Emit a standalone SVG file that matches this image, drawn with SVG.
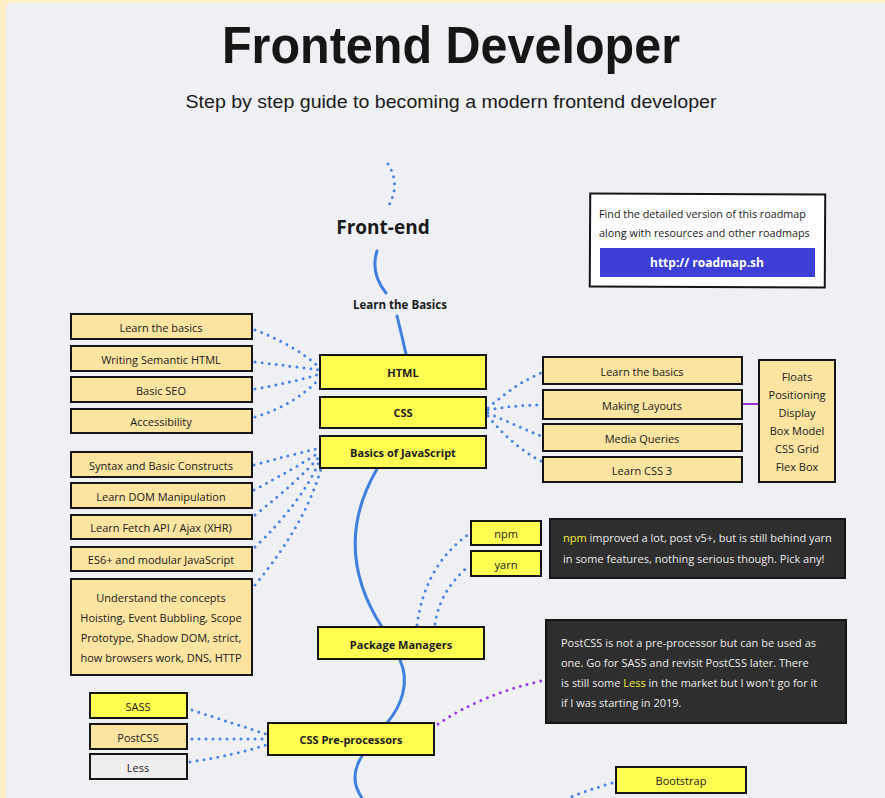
<svg xmlns="http://www.w3.org/2000/svg" width="885" height="798" viewBox="0 0 885 798">
<style>
.by{fill:#ffff52;stroke:#151515;stroke-width:2}
.bo{fill:#fbe3a2;stroke:#151515;stroke-width:2}
.bg{fill:#efefef;stroke:#151515;stroke-width:2}
.dark{fill:#2e2e2e;stroke:#151515;stroke-width:2}
.t{font-family:"Open Sans","Liberation Sans",sans-serif;font-size:11px;fill:#1a1a1a;text-anchor:middle;dominant-baseline:central}
.tb{font-family:"Open Sans","Liberation Sans",sans-serif;font-size:11px;font-weight:bold;fill:#1a1a1a;text-anchor:middle;dominant-baseline:central}
.tw{font-family:"Open Sans","Liberation Sans",sans-serif;font-size:11px;fill:#ececec;dominant-baseline:central}
.hl{fill:#f2ef3c}
.dot{fill:none;stroke:#4a82e4;stroke-width:3;stroke-linecap:round;stroke-dasharray:0 7}
.pdot{fill:none;stroke:#9b37ee;stroke-width:3;stroke-linecap:round;stroke-dasharray:0 7}
.spine{fill:none;stroke:#3f7fe0;stroke-width:3;stroke-linecap:round}
</style>
<rect x="0" y="0" width="885" height="798" fill="#fcefc8"/>
<rect x="6" y="3" width="885" height="800" rx="6" fill="#eff0f4"/>
<g id="title">
<text x="451" y="63" font-family="Liberation Sans, Arial, sans-serif" font-size="52" font-weight="bold" fill="#161616" text-anchor="middle" textLength="458" lengthAdjust="spacingAndGlyphs">Frontend Developer</text>
<text x="451" y="108" font-family="Liberation Sans, Arial, sans-serif" font-size="19" fill="#1a1a1a" text-anchor="middle" textLength="531" lengthAdjust="spacingAndGlyphs">Step by step guide to becoming a modern frontend developer</text>
</g>
<g id="connectors">
<path class="dot" d="M388,164 Q402,186 386,210"/>
<path class="spine" d="M377,251 Q370,273 386,293"/>
<path class="spine" d="M397,316 Q402,336 406,354"/>
<path class="spine" d="M377,469 Q331,548 382,627"/>
<path class="spine" d="M400,660 C410,682 402,705 387,723"/>
<path class="spine" d="M362,756 Q348,778 362,798"/>
<path class="dot" d="M255,330 Q295,345 320,368"/>
<path class="dot" d="M255,362 Q290,366 320,370"/>
<path class="dot" d="M255,389 Q290,383 320,374"/>
<path class="dot" d="M255,417 Q295,405 320,378"/>
<path class="dot" d="M254,465 Q290,455 320,448"/>
<path class="dot" d="M254,490 Q292,470 320,452"/>
<path class="dot" d="M255,515 Q297,482 320,456"/>
<path class="dot" d="M255,547 Q302,502 320,460"/>
<path class="dot" d="M255,585 Q307,522 322,465"/>
<path class="dot" d="M488,408 Q515,384 541,373"/>
<path class="dot" d="M488,410 Q515,405 541,405"/>
<path class="dot" d="M488,413 Q515,425 541,436"/>
<path class="dot" d="M488,416 Q512,446 541,461"/>
<path d="M742,404 L759,404" stroke="#9b2fd6" stroke-width="2" fill="none"/>
<path class="dot" d="M417,625 Q425,565 469,534"/>
<path class="dot" d="M435,624 Q440,590 469,566"/>
<path class="dot" d="M192,710 Q235,724 266,734"/>
<path class="dot" d="M192,739 L266,739"/>
<path class="dot" d="M190,762 Q235,755 266,745"/>
<path class="pdot" d="M438,724 Q482,694 545,680"/>
<path class="dot" d="M612,783 Q588,790 568,798"/>
</g>
<g id="frontend"><text x="383" y="227" class="tb" style="font-size:19px">Front-end</text></g>
<g id="learn-the-basics-label"><text x="400" y="304" class="tb" style="font-size:11.5px">Learn the Basics</text></g>
<g id="info">
<rect x="590" y="194" width="235" height="93" fill="#ffffff" stroke="#151515" stroke-width="2" transform="rotate(0.3 707 240)"/>
<text x="599" y="213" class="tw" style="fill:#1a1a1a;font-size:10.8px">Find the detailed version of this roadmap</text>
<text x="599" y="232" class="tw" style="fill:#1a1a1a;font-size:10.8px">along with resources and other roadmaps</text>
<rect x="600" y="248" width="215" height="29" fill="#3c3ed6"/>
<text x="707" y="262" class="tb" style="fill:#ffffff;font-size:12px">http:// roadmap.sh</text>
</g>
<g id="html-basics"><rect class="bo" x="71" y="314" width="181" height="25"/><text x="161" y="327" class="t">Learn the basics</text></g>
<g id="semantic-html"><rect class="bo" x="71" y="346" width="181" height="25"/><text x="161" y="359" class="t">Writing Semantic HTML</text></g>
<g id="basic-seo"><rect class="bo" x="71" y="377" width="181" height="25"/><text x="161" y="390" class="t">Basic SEO</text></g>
<g id="accessibility"><rect class="bo" x="71" y="409" width="181" height="24"/><text x="161" y="421" class="t">Accessibility</text></g>
<g id="html"><rect class="by" x="320" y="355" width="166" height="34"/><text x="403" y="372" class="tb">HTML</text></g>
<g id="css"><rect class="by" x="320" y="397" width="166" height="31"/><text x="403" y="412" class="tb">CSS</text></g>
<g id="js"><rect class="by" x="320" y="436" width="166" height="32"/><text x="403" y="452" class="tb">Basics of JavaScript</text></g>
<g id="syntax"><rect class="bo" x="71" y="452" width="181" height="25"/><text x="161" y="465" class="t">Syntax and Basic Constructs</text></g>
<g id="dom"><rect class="bo" x="71" y="483" width="181" height="25"/><text x="161" y="496" class="t">Learn DOM Manipulation</text></g>
<g id="fetch"><rect class="bo" x="71" y="515" width="181" height="24"/><text x="161" y="527" class="t">Learn Fetch API / Ajax (XHR)</text></g>
<g id="es6"><rect class="bo" x="71" y="547" width="181" height="24"/><text x="161" y="559" class="t">ES6+ and modular JavaScript</text></g>
<g id="concepts"><rect class="bo" x="71" y="579" width="181" height="96"/>
<text x="161" y="597" class="t">Understand the concepts</text>
<text x="161" y="617" class="t">Hoisting, Event Bubbling, Scope</text>
<text x="161" y="637" class="t">Prototype, Shadow DOM, strict,</text>
<text x="161" y="657" class="t">how browsers work, DNS, HTTP</text></g>
<g id="css-basics"><rect class="bo" x="543" y="357" width="199" height="27"/><text x="642" y="371" class="t">Learn the basics</text></g>
<g id="layouts"><rect class="bo" x="543" y="390" width="199" height="29"/><text x="642" y="405" class="t">Making Layouts</text></g>
<g id="media"><rect class="bo" x="543" y="424" width="199" height="27"/><text x="642" y="438" class="t">Media Queries</text></g>
<g id="css3"><rect class="bo" x="543" y="457" width="199" height="25"/><text x="642" y="470" class="t">Learn CSS 3</text></g>
<g id="layout-list"><rect class="bo" x="759" y="360" width="76" height="122"/>
<text x="797" y="376" class="t">Floats</text>
<text x="797" y="394" class="t">Positioning</text>
<text x="797" y="412" class="t">Display</text>
<text x="797" y="430" class="t">Box Model</text>
<text x="797" y="448" class="t">CSS Grid</text>
<text x="797" y="466" class="t">Flex Box</text></g>
<g id="npm"><rect class="by" x="471" y="521" width="70" height="24"/><text x="506" y="533" class="t">npm</text></g>
<g id="yarn"><rect class="by" x="471" y="551" width="70" height="25"/><text x="506" y="564" class="t">yarn</text></g>
<g id="npm-note"><rect class="dark" x="550" y="519" width="295" height="59"/>
<text x="563" y="537" class="tw"><tspan class="hl">npm</tspan> improved a lot, post v5+, but is still behind yarn</text>
<text x="563" y="558" class="tw">in some features, nothing serious though. Pick any!</text></g>
<g id="package-managers"><rect class="by" x="318" y="627" width="166" height="32"/><text x="401" y="644" class="tb">Package Managers</text></g>
<g id="postcss-note"><rect class="dark" x="546" y="620" width="300" height="103"/>
<text x="561" y="642" class="tw">PostCSS is not a pre-processor but can be used as</text>
<text x="561" y="662" class="tw">one. Go for SASS and revisit PostCSS later. There</text>
<text x="561" y="682" class="tw">is still some <tspan class="hl">Less</tspan> in the market but I won't go for it</text>
<text x="561" y="702" class="tw">if I was starting in 2019.</text></g>
<g id="sass"><rect class="by" x="90" y="693" width="97" height="25"/><text x="138" y="706" class="t">SASS</text></g>
<g id="postcss"><rect class="bo" x="90" y="724" width="97" height="25"/><text x="138" y="737" class="t">PostCSS</text></g>
<g id="less"><rect class="bg" x="90" y="754" width="97" height="25"/><text x="138" y="767" class="t">Less</text></g>
<g id="css-pre"><rect class="by" x="268" y="723" width="166" height="32"/><text x="351" y="739" class="tb">CSS Pre-processors</text></g>
<g id="bootstrap"><rect class="by" x="616" y="767" width="130" height="26"/><text x="681" y="780" class="t">Bootstrap</text></g>
</svg>
